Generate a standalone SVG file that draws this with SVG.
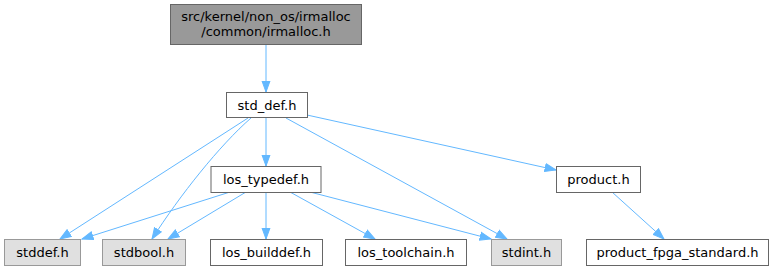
<svg xmlns="http://www.w3.org/2000/svg" width="774" height="271" viewBox="0 0 774 271">
<style>
.n rect{fill:#fff;stroke:#666;stroke-width:1}
.n.g rect{fill:#e0e0e0;stroke:#999}
.n.r rect{fill:#999;stroke:#666}
text{font-family:"DejaVu Sans",sans-serif;font-size:13px;fill:#000;text-anchor:middle}
.e path{fill:none;stroke:#63b8ff;stroke-width:1}
</style>
<defs>
<marker id="a" markerUnits="userSpaceOnUse" markerWidth="13" markerHeight="10" refX="11.5" refY="5" orient="auto">
<path d="M0.5,1 L11.5,5 L0.5,9 z" fill="#63b8ff" stroke="#63b8ff" stroke-width="1"/>
</marker>
</defs>
<g class="e">
<path d="M266,45 L266,92" marker-end="url(#a)"/>
<path d="M248,118 L60,239" marker-end="url(#a)"/>
<path d="M251,118 C220,145 180,195 152,239" marker-end="url(#a)"/>
<path d="M266,118 L266,166" marker-end="url(#a)"/>
<path d="M286,118 L507,239" marker-end="url(#a)"/>
<path d="M307,115 L556,170" marker-end="url(#a)"/>
<path d="M230,192 L82,239" marker-end="url(#a)"/>
<path d="M246,192 L168,239" marker-end="url(#a)"/>
<path d="M266,192 L266,239" marker-end="url(#a)"/>
<path d="M290,192 L375,239" marker-end="url(#a)"/>
<path d="M310,192 L491,239" marker-end="url(#a)"/>
<path d="M612,192 L664,239" marker-end="url(#a)"/>
</g>
<g id="root" class="n r"><rect x="170.5" y="4.5" width="191" height="40"/><text x="266" y="20.5">src/kernel/non_os/irmalloc</text><text x="266" y="36">/common/irmalloc.h</text></g>
<g id="std_def" class="n"><rect x="226.5" y="92.5" width="81" height="25"/><text x="267" y="109.5">std_def.h</text></g>
<g id="los_typedef" class="n"><rect x="211" y="166.5" width="110" height="26"/><text x="266" y="183.5">los_typedef.h</text></g>
<g id="product" class="n"><rect x="556.5" y="166.5" width="84" height="26"/><text x="598.5" y="183.5">product.h</text></g>
<g id="stddef" class="n g"><rect x="4.5" y="239.5" width="76" height="26"/><text x="42.5" y="256.5">stddef.h</text></g>
<g id="stdbool" class="n g"><rect x="102.5" y="239.5" width="83" height="26"/><text x="144" y="256.5">stdbool.h</text></g>
<g id="los_builddef" class="n"><rect x="210.5" y="239.5" width="112" height="26"/><text x="266.5" y="256.5">los_builddef.h</text></g>
<g id="los_toolchain" class="n"><rect x="345.5" y="239.5" width="121" height="26"/><text x="406" y="256.5">los_toolchain.h</text></g>
<g id="stdint" class="n g"><rect x="491.5" y="239.5" width="70" height="26"/><text x="526.5" y="256.5">stdint.h</text></g>
<g id="product_fpga" class="n"><rect x="586.5" y="239.5" width="182" height="26"/><text x="677.5" y="256.5">product_fpga_standard.h</text></g>
</svg>
